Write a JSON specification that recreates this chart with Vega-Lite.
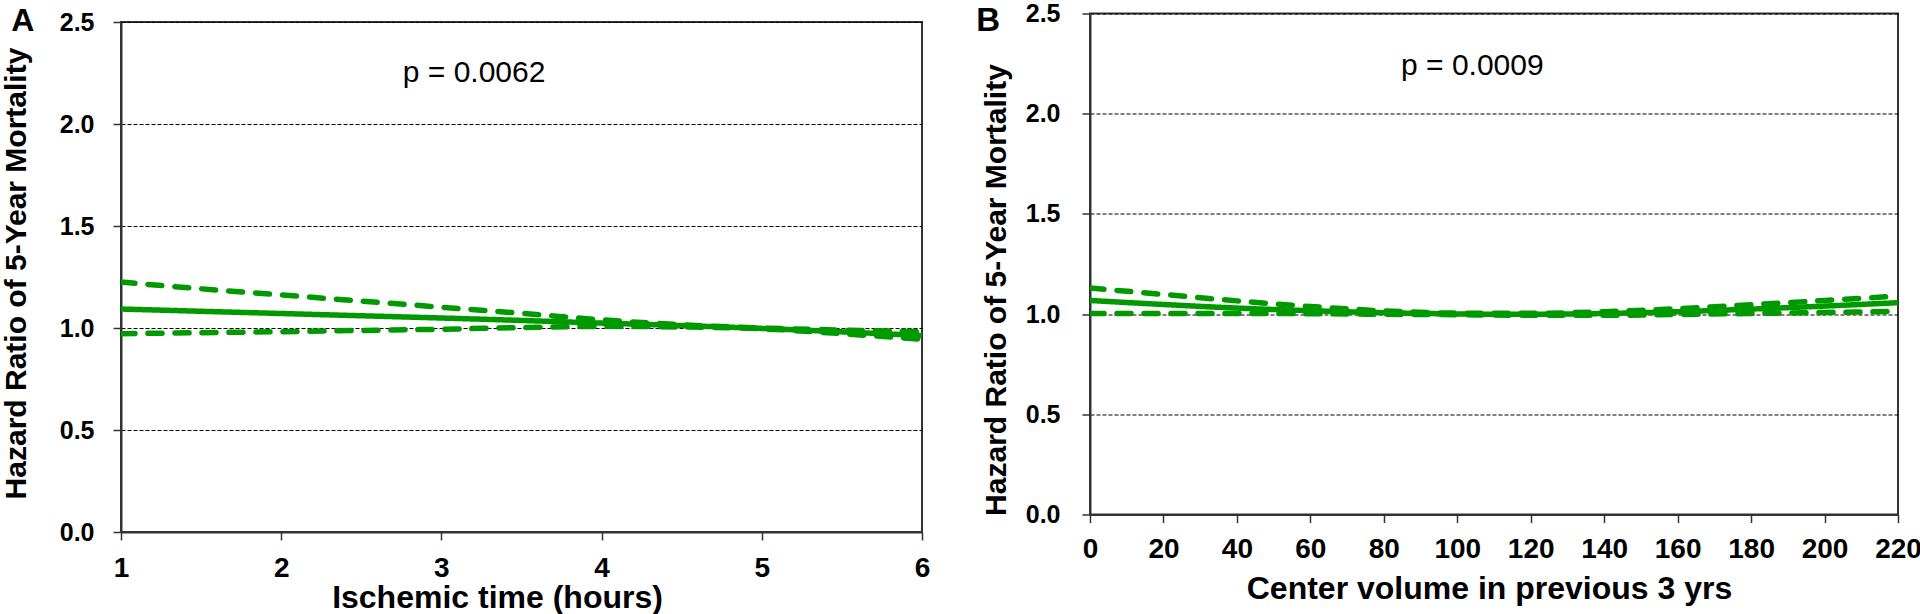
{
  "$schema": "https://vega.github.io/schema/vega-lite/v6.json",
  "padding": {"top": 0, "left": 0, "right": 0, "bottom": 0},
  "background": "white",
  "spacing": 44,
  "datasets": {
    "a_lines": [
      {"x": 1.0, "series": "est", "hr": 1.093}, {"x": 1.5, "series": "est", "hr": 1.082}, {"x": 2.0, "series": "est", "hr": 1.071}, {"x": 2.5, "series": "est", "hr": 1.060}, {"x": 3.0, "series": "est", "hr": 1.049}, {"x": 3.5, "series": "est", "hr": 1.037}, {"x": 4.0, "series": "est", "hr": 1.024}, {"x": 4.5, "series": "est", "hr": 1.012}, {"x": 5.0, "series": "est", "hr": 0.998}, {"x": 5.5, "series": "est", "hr": 0.981}, {"x": 6.0, "series": "est", "hr": 0.963},
      {"x": 1.0, "series": "upper", "hr": 1.225}, {"x": 1.5, "series": "upper", "hr": 1.192}, {"x": 2.0, "series": "upper", "hr": 1.162}, {"x": 2.5, "series": "upper", "hr": 1.132}, {"x": 3.0, "series": "upper", "hr": 1.102}, {"x": 3.5, "series": "upper", "hr": 1.072}, {"x": 4.0, "series": "upper", "hr": 1.040}, {"x": 4.5, "series": "upper", "hr": 1.016}, {"x": 5.0, "series": "upper", "hr": 1.000}, {"x": 5.5, "series": "upper", "hr": 0.990}, {"x": 6.0, "series": "upper", "hr": 0.982},
      {"x": 1.0, "series": "lower", "hr": 0.972}, {"x": 1.5, "series": "lower", "hr": 0.977}, {"x": 2.0, "series": "lower", "hr": 0.982}, {"x": 2.5, "series": "lower", "hr": 0.988}, {"x": 3.0, "series": "lower", "hr": 0.994}, {"x": 3.5, "series": "lower", "hr": 1.002}, {"x": 4.0, "series": "lower", "hr": 1.008}, {"x": 4.5, "series": "lower", "hr": 1.005}, {"x": 5.0, "series": "lower", "hr": 0.996}, {"x": 5.5, "series": "lower", "hr": 0.972}, {"x": 6.0, "series": "lower", "hr": 0.945}
    ],
    "b_lines": [
      {"x": 0, "series": "est", "hr": 1.068}, {"x": 20, "series": "est", "hr": 1.048}, {"x": 40, "series": "est", "hr": 1.030}, {"x": 60, "series": "est", "hr": 1.017}, {"x": 80, "series": "est", "hr": 1.007}, {"x": 100, "series": "est", "hr": 1.001}, {"x": 120, "series": "est", "hr": 0.999}, {"x": 140, "series": "est", "hr": 1.003}, {"x": 160, "series": "est", "hr": 1.012}, {"x": 180, "series": "est", "hr": 1.025}, {"x": 200, "series": "est", "hr": 1.040}, {"x": 220, "series": "est", "hr": 1.057},
      {"x": 0, "series": "upper", "hr": 1.130}, {"x": 20, "series": "upper", "hr": 1.098}, {"x": 40, "series": "upper", "hr": 1.066}, {"x": 60, "series": "upper", "hr": 1.038}, {"x": 80, "series": "upper", "hr": 1.016}, {"x": 100, "series": "upper", "hr": 1.005}, {"x": 120, "series": "upper", "hr": 1.004}, {"x": 140, "series": "upper", "hr": 1.012}, {"x": 160, "series": "upper", "hr": 1.027}, {"x": 180, "series": "upper", "hr": 1.047}, {"x": 200, "series": "upper", "hr": 1.068}, {"x": 220, "series": "upper", "hr": 1.090},
      {"x": 0, "series": "lower", "hr": 1.003}, {"x": 20, "series": "lower", "hr": 1.003}, {"x": 40, "series": "lower", "hr": 1.003}, {"x": 60, "series": "lower", "hr": 1.002}, {"x": 80, "series": "lower", "hr": 0.999}, {"x": 100, "series": "lower", "hr": 0.997}, {"x": 120, "series": "lower", "hr": 0.994}, {"x": 140, "series": "lower", "hr": 0.994}, {"x": 160, "series": "lower", "hr": 0.998}, {"x": 180, "series": "lower", "hr": 1.003}, {"x": 200, "series": "lower", "hr": 1.008}, {"x": 220, "series": "lower", "hr": 1.014}
    ],
    "a_note": [{"x": 3.204, "hr": 2.208, "label": "p = 0.0062"}],
    "b_note": [{"x": 104.1, "hr": 2.191, "label": "p = 0.0009"}],
    "a_letter": [{"x": 0.315, "hr": 2.458, "label": "A"}],
    "b_letter": [{"x": -31.0, "hr": 2.415, "label": "B"}],
    "empty": []
  },
  "hconcat": [
    {
      "spacing": 0,
      "vconcat": [
        {
          "width": 801,
          "height": 2,
          "data": {"name": "empty"},
          "mark": "point",
          "view": {"stroke": null}
        },
        {
          "width": 801,
          "height": 510,
          "layer": [
            {
              "data": {"name": "a_lines"},
              "mark": {"type": "line", "clip": true, "strokeWidth": 5.5, "strokeCap": "round", "interpolate": "monotone", "color": "#009a00"},
              "encoding": {
                "x": {"field": "x", "type": "quantitative", "scale": {"domain": [1, 6], "nice": false, "zero": false},
                  "axis": {"values": [1, 2, 3, 4, 5, 6], "format": "d", "title": "Ischemic time (hours)", "labelFlush": false, "labelFontSize": 28, "labelPadding": 14, "titleFontSize": 32, "titleBaseline": "alphabetic", "titleY": 75.5, "titleX": 376, "grid": false}},
                "y": {"field": "hr", "type": "quantitative", "scale": {"domain": [0, 2.5], "nice": false},
                  "axis": {"values": [0, 0.5, 1, 1.5, 2, 2.5], "format": ".1f", "title": "Hazard Ratio of 5-Year Mortality", "labelFontSize": 25, "labelPadding": 19, "titleFontSize": 30, "titleBaseline": "alphabetic", "titleX": -95.3, "titleY": 251, "grid": true}},
                "detail": {"field": "series"},
                "strokeDash": {"field": "series", "type": "nominal", "scale": {"domain": ["est", "upper", "lower"], "range": [[1, 0], [14, 13], [14, 13]]}, "legend": null}
              }
            },
            {
              "data": {"name": "a_note"},
              "mark": {"type": "text", "fontSize": 30, "font": "Liberation Sans, Arial, sans-serif", "align": "center", "baseline": "alphabetic", "color": "black"},
              "encoding": {
                "x": {"field": "x", "type": "quantitative", "scale": {"domain": [1, 6], "nice": false, "zero": false}},
                "y": {"field": "hr", "type": "quantitative"},
                "text": {"field": "label"}
              }
            },
            {
              "data": {"name": "a_letter"},
              "mark": {"type": "text", "fontSize": 32, "fontWeight": "bold", "font": "Liberation Sans, Arial, sans-serif", "align": "left", "baseline": "alphabetic", "color": "black", "clip": false},
              "encoding": {
                "x": {"field": "x", "type": "quantitative", "scale": {"domain": [1, 6], "nice": false, "zero": false}},
                "y": {"field": "hr", "type": "quantitative"},
                "text": {"field": "label"}
              }
            }
          ]
        }
      ]
    },
    {
      "spacing": -1.5,
      "vconcat": [
        {
          "width": 808,
          "height": 1,
          "data": {"name": "empty"},
          "mark": "point",
          "view": {"stroke": null}
        },
        {
          "width": 808,
          "height": 501,
          "layer": [
            {
              "data": {"name": "b_lines"},
              "mark": {"type": "line", "clip": true, "strokeWidth": 5.5, "strokeCap": "round", "interpolate": "monotone", "color": "#009a00"},
              "encoding": {
                "x": {"field": "x", "type": "quantitative", "scale": {"domain": [0, 220], "nice": false},
                  "axis": {"values": [0, 20, 40, 60, 80, 100, 120, 140, 160, 180, 200, 220], "format": "d", "title": "Center volume in previous 3 yrs", "labelFlush": false, "labelFontSize": 28, "labelPadding": 13, "titleFontSize": 32, "titleBaseline": "alphabetic", "titleY": 83.5, "titleX": 399, "grid": false}},
                "y": {"field": "hr", "type": "quantitative", "scale": {"domain": [0, 2.5], "nice": false},
                  "axis": {"values": [0, 0.5, 1, 1.5, 2, 2.5], "format": ".1f", "title": "Hazard Ratio of 5-Year Mortality", "labelFontSize": 25, "labelPadding": 22, "titleFontSize": 30, "titleBaseline": "alphabetic", "titleX": -85, "titleY": 276, "grid": true}},
                "detail": {"field": "series"},
                "strokeDash": {"field": "series", "type": "nominal", "scale": {"domain": ["est", "upper", "lower"], "range": [[1, 0], [14, 13], [14, 13]]}, "legend": null}
              }
            },
            {
              "data": {"name": "b_note"},
              "mark": {"type": "text", "fontSize": 30, "font": "Liberation Sans, Arial, sans-serif", "align": "center", "baseline": "alphabetic", "color": "black"},
              "encoding": {
                "x": {"field": "x", "type": "quantitative", "scale": {"domain": [0, 220], "nice": false}},
                "y": {"field": "hr", "type": "quantitative"},
                "text": {"field": "label"}
              }
            },
            {
              "data": {"name": "b_letter"},
              "mark": {"type": "text", "fontSize": 33, "fontWeight": "bold", "font": "Liberation Sans, Arial, sans-serif", "align": "left", "baseline": "alphabetic", "color": "black", "clip": false},
              "encoding": {
                "x": {"field": "x", "type": "quantitative", "scale": {"domain": [0, 220], "nice": false}},
                "y": {"field": "hr", "type": "quantitative"},
                "text": {"field": "label"}
              }
            }
          ]
        }
      ]
    }
  ],
  "config": {
    "font": "Liberation Sans, Arial, sans-serif",
    "view": {"stroke": "#333333", "strokeWidth": 2},
    "axis": {
      "domainColor": "#333333", "domainWidth": 2,
      "tickColor": "#333333", "tickWidth": 1.5, "tickSize": 8,
      "labelColor": "black", "labelFontWeight": "bold", "labelFont": "Liberation Sans, Arial, sans-serif",
      "titleColor": "black", "titleFontWeight": "bold", "titleFont": "Liberation Sans, Arial, sans-serif",
      "gridColor": "#000000", "gridDash": [4, 2], "gridWidth": 1, "gridOpacity": 1
    }
  }
}
